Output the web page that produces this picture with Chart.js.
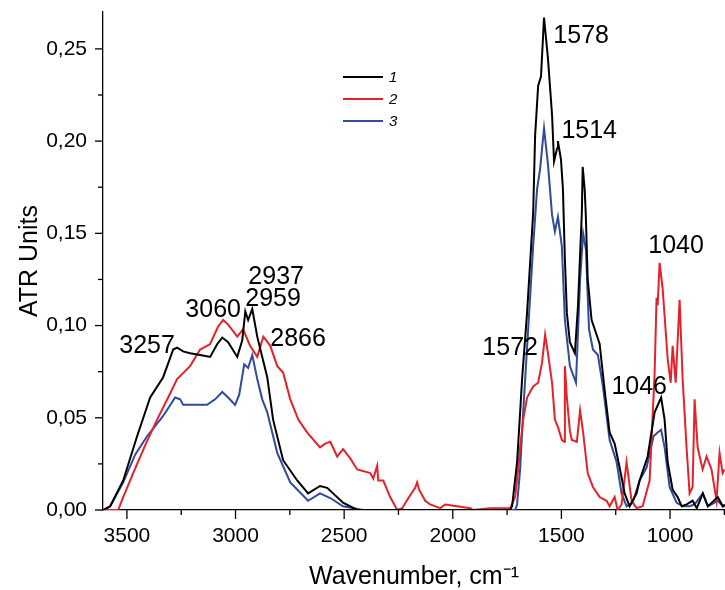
<!DOCTYPE html>
<html>
<head>
<meta charset="utf-8">
<script src="https://cdn.jsdelivr.net/npm/chart.js@4.4.1/dist/chart.umd.min.js"></script>
<style>
  html, body { margin: 0; padding: 0; background: #fff; }
  #wrap { width: 725px; height: 590px; }
</style>
</head>
<body>
<div id="wrap"><canvas id="atrChart" width="725" height="590"></canvas></div>
<script>
// Spectrum 1 (black)
const wn1 = [3609,3577,3517,3453,3393,3333,3287,3269,3241,3209,3163,3117,3084,3061,3034,2992,2969,2955,2942,2923,
    2900,2877,2854,2827,2781,2716,2666,2611,2578,2505,2440,2000,1736,1727,1704,1690,1681,1658,1630,1621,
    1607,1594,1580,1562,1543,1534,1520,1516,1502,1493,1484,1475,1461,1438,1424,1406,1402,1393,1388,1379,
    1361,1338,1324,1301,1278,1255,1232,1209,1186,1154,1140,1103,1071,1041,1025,1011,988,965,946,923,
    896,877,849,826,808,780,757,748];
const atr1 = [0,0.002,0.016,0.040,0.061,0.072,0.087,0.088,0.086,0.085,0.084,0.083,0.090,0.0935,0.091,0.083,0.092,0.1076,0.103,0.109,
    0.094,0.083,0.072,0.049,0.027,0.016,0.009,0.013,0.012,0.004,0,0,0,0.002,0.026,0.053,0.071,0.107,0.161,0.203,
    0.230,0.235,0.267,0.245,0.214,0.189,0.196,0.200,0.190,0.174,0.136,0.107,0.091,0.085,0.110,0.161,0.186,0.174,0.161,0.125,
    0.103,0.095,0.090,0.065,0.042,0.036,0.023,0.009,0.002,0.009,0.016,0.029,0.053,0.061,0.049,0.026,0.011,0.007,0.002,0.003,
    0.005,0.001,0.009,0.002,0.004,0.007,0.002,0.003];

// Spectrum 2 (red)
const wn2 = [3609,3540,3517,3471,3416,3361,3310,3269,3209,3163,3117,3080,3057,3034,2992,2965,2933,2900,2872,2840,
    2808,2781,2748,2711,2670,2611,2587,2564,2532,2505,2472,2440,2380,2366,2348,2343,2320,2288,2256,2233,
    2196,2173,2164,2155,2127,2104,2058,2035,1980,1920,1906,1828,1736,1713,1699,1690,1676,1658,1630,1607,
    1589,1575,1562,1543,1530,1516,1498,1488,1484,1475,1461,1452,1429,1414,1400,1379,1355,1324,1292,1278,
    1255,1241,1223,1200,1177,1154,1126,1094,1071,1062,1057,1048,1034,1011,997,988,974,956,942,924,
    910,896,887,873,850,832,809,786,772,758,749];
const atr2 = [0,0,0.007,0.020,0.035,0.049,0.061,0.071,0.078,0.087,0.090,0.0995,0.103,0.1005,0.094,0.098,0.089,0.083,0.094,0.089,
    0.078,0.0745,0.060,0.049,0.042,0.034,0.036,0.037,0.029,0.033,0.028,0.022,0.020,0.017,0.024,0.016,0.016,0.007,0,0.001,
    0.008,0.012,0.015,0.011,0.005,0.003,0.001,0.003,0.002,0.001,0,0.001,0.001,0.007,0.022,0.034,0.049,0.061,0.067,0.069,
    0.080,0.095,0.085,0.069,0.049,0.045,0.038,0.037,0.078,0.061,0.043,0.038,0.037,0.054,0.042,0.020,0.0125,0.007,0.005,0.002,
    0.007,0,0.003,0.026,0.005,0.001,0.002,0.016,0.074,0.115,0.111,0.134,0.120,0.082,0.069,0.089,0.069,0.114,0.071,0.034,
    0.009,0.0125,0.060,0.034,0.022,0.029,0.022,0.005,0.031,0.020,0.022];

// Spectrum 3 (blue)
const wn3 = [3609,3577,3517,3462,3407,3333,3278,3255,3241,3186,3131,3094,3061,3034,3002,2983,2960,2942,2923,2900,
    2877,2854,2808,2748,2666,2611,2564,2505,2412,2000,1713,1704,1690,1676,1653,1630,1612,1598,1580,1562,
    1543,1530,1516,1498,1484,1461,1433,1414,1400,1387,1373,1355,1332,1309,1278,1246,1223,1200,1172,1140,
    1108,1076,1057,1041,1025,1002,970,942,910,887,849,826,780,757,748];
const atr3 = [0,0.002,0.015,0.030,0.040,0.051,0.061,0.060,0.057,0.057,0.057,0.060,0.064,0.061,0.057,0.0625,0.079,0.077,0.084,0.071,
    0.060,0.053,0.031,0.015,0.005,0.009,0.0065,0.002,0,0,0,0.003,0.022,0.053,0.098,0.143,0.174,0.185,0.207,0.1875,
    0.160,0.151,0.159,0.143,0.103,0.078,0.069,0.125,0.150,0.141,0.098,0.087,0.084,0.067,0.038,0.026,0.009,0.002,0.004,0.016,
    0.023,0.040,0.042,0.0435,0.034,0.0125,0.004,0.002,0.002,0.003,0.009,0.002,0.005,0.002,0.002];

const seriesNames = ['1', '2', '3'];
const seriesColors = ['#000000', '#e4222a', '#2e4b9d'];

// Peak labels: text and where its centre sits (wavenumber, ATR units)
const peakText = ['3257', '3060', '2937', '2959', '2866', '1578', '1514', '1040', '1572', '1046'];
const peakWn   = [3407, 3103, 2813, 2827, 2712, 1409, 1372, 972, 1736, 1142];
const peakAtr  = [0.0886, 0.1082, 0.1261, 0.1141, 0.0924, 0.2571, 0.2054, 0.1429, 0.0880, 0.0668];

const FONT = "'Liberation Sans', Arial, sans-serif";

function toPoints(xs, ys) {
    return xs.map((x, i) => ({ x: x, y: ys[i] }));
}

// Tick marks (major longer, minor shorter), legend and peak labels
const extrasPlugin = {
    id: 'extras',
    afterDraw(chart) {
        const ctx = chart.ctx;
        const xs = chart.scales.x;
        const ys = chart.scales.y;
        const area = chart.chartArea;
        ctx.save();
        ctx.strokeStyle = '#000';
        ctx.lineWidth = 1.3;

        xs.ticks.forEach(t => {
            const major = Math.round(t.value) % 500 === 0;
            const px = xs.getPixelForValue(t.value);
            if (px < area.left || px > area.right + 0.5) return;
            ctx.beginPath();
            ctx.moveTo(px, area.bottom);
            ctx.lineTo(px, area.bottom + (major ? 9 : 5));
            ctx.stroke();
        });
        ys.ticks.forEach(t => {
            const major = Math.round(t.value * 1000) % 50 === 0;
            const py = ys.getPixelForValue(t.value);
            ctx.beginPath();
            ctx.moveTo(area.left, py);
            ctx.lineTo(area.left - (major ? 8 : 5), py);
            ctx.stroke();
        });

        // legend
        ctx.font = 'italic 15px ' + FONT;
        ctx.textBaseline = 'middle';
        ctx.textAlign = 'left';
        chart.data.datasets.forEach((ds, i) => {
            const y = 77 + i * 22;
            ctx.strokeStyle = ds.borderColor;
            ctx.lineWidth = 2;
            ctx.beginPath();
            ctx.moveTo(343, y);
            ctx.lineTo(383, y);
            ctx.stroke();
            ctx.fillStyle = '#000';
            ctx.fillText(ds.label, 389, y + 1);
        });

        // peak labels
        ctx.font = '25px ' + FONT;
        ctx.textAlign = 'center';
        ctx.textBaseline = 'middle';
        ctx.fillStyle = '#000';
        peakText.forEach((txt, i) => {
            ctx.fillText(txt, xs.getPixelForValue(peakWn[i]), ys.getPixelForValue(peakAtr[i]));
        });
        ctx.restore();
    }
};

const ctx = document.getElementById('atrChart').getContext('2d');
new Chart(ctx, {
    type: 'line',
    data: {
        datasets: [
            { label: seriesNames[0], data: toPoints(wn1, atr1), borderColor: seriesColors[0] },
            { label: seriesNames[1], data: toPoints(wn2, atr2), borderColor: seriesColors[1] },
            { label: seriesNames[2], data: toPoints(wn3, atr3), borderColor: seriesColors[2] }
        ]
    },
    options: {
        responsive: false,
        animation: false,
        devicePixelRatio: 1,
        layout: { padding: { top: 12, right: 0, left: 0, bottom: 0 } },
        elements: {
            line: { borderWidth: 2, tension: 0, fill: false },
            point: { radius: 0 }
        },
        plugins: {
            legend: { display: false },
            tooltip: { enabled: false }
        },
        scales: {
            x: {
                type: 'linear',
                reverse: true,
                min: 747,
                max: 3610,
                afterFit(scale) {
                    scale.height = 80;
                    scale.paddingLeft = 0;
                    scale.paddingRight = 0;
                },
                grid: { display: true, drawOnChartArea: false, drawTicks: false },
                border: { display: true, color: '#000', width: 1.3 },
                ticks: {
                    stepSize: 250,
                    includeBounds: false,
                    maxRotation: 0,
                    autoSkip: false,
                    padding: 14,
                    color: '#000',
                    font: { family: FONT, size: 21 },
                    callback: v => (Math.round(v) % 500 === 0 ? String(v) : '')
                },
                title: {
                    display: true,
                    text: 'Wavenumber, cm⁻¹',
                    color: '#000',
                    font: { family: FONT, size: 25, lineHeight: 1 },
                    padding: 0
                }
            },
            y: {
                min: 0,
                max: 0.27,
                afterFit(scale) {
                    scale.width = 103;
                    scale.paddingTop = 0;
                    scale.paddingBottom = 0;
                },
                grid: { display: true, drawOnChartArea: false, drawTicks: false },
                border: { display: true, color: '#000', width: 1.3 },
                ticks: {
                    stepSize: 0.025,
                    includeBounds: false,
                    autoSkip: false,
                    padding: 16,
                    color: '#000',
                    font: { family: FONT, size: 21 },
                    callback: v => (Math.round(v * 1000) % 50 === 0 ? v.toFixed(2).replace('.', ',') : '')
                },
                title: {
                    display: true,
                    text: 'ATR Units',
                    color: '#000',
                    font: { family: FONT, size: 25, lineHeight: 1 },
                    padding: { top: 18, bottom: 0 }
                }
            }
        }
    },
    plugins: [extrasPlugin]
});
</script>
</body>
</html>
